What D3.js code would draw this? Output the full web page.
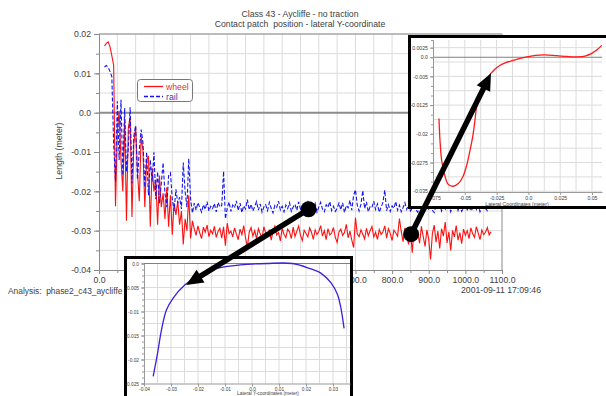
<!DOCTYPE html>
<html>
<head>
<meta charset="utf-8">
<script src="https://cdn.jsdelivr.net/npm/d3@7"></script>
<style>
  body { margin: 0; background: #fff; }
  svg { display: block; font-family: "Liberation Sans", Arial, sans-serif; }
  text { white-space: pre; }
</style>
</head>
<body>
<div id="chart"></div>
<script>
// ---- data ----
// main run: lateral contact patch position, sampled every 5 units from 15, values in mm
const distStart = 15, distStep = 5;
const wheelMm = [
  17.0, 17.6, 18.0, 16.8, 14.5, 12.0,
  -23.8, -5.0, 0.5, -12.0, -20.0, -2.0, -27.5, -4.0, -1.0, -26.5,
  -8.0, -3.5, -15.0, -22.5, -6.0, -9.5, -24.0, -12.0, -11.0, -29.0,
  -14.0, -20.0, -17.0, -28.5, -16.0, -24.0, -20.5, -27.0, -19.0, -29.0,
  -21.0, -31.0, -23.0, -26.0, -22.5, -28.5, -25.0, -33.5, -27.0, -30.0,
  -21.0, -32.0, -27.5,
  -29.5, -31.2, -28.8, -30.6, -32.0, -29.1, -30.4, -28.6, -31.5, -29.9,
  -30.8, -28.9, -31.7, -30.2, -29.4, -31.9, -29.0, -33.8, -28.1, -30.7,
  -30.1, -31.6, -29.3, -30.9, -32.3, -29.6, -31.0, -28.7, -31.8, -34.2,
  -30.4, -29.2, -31.4, -30.0, -32.1, -29.5, -30.8, -31.9, -29.0, -30.6,
  -31.3, -29.7, -32.4, -30.2, -28.9, -31.1, -30.5, -32.6, -29.4, -30.9,
  -31.8, -29.6, -30.3, -32.0, -29.1, -31.5, -30.1, -28.8, -31.2, -32.5,
  -29.9, -30.7, -31.6, -29.3, -30.4, -32.2, -29.8, -31.0, -30.2, -28.7,
  -31.4, -30.0, -32.3, -29.5, -31.1, -30.6, -29.2, -31.7, -33.0, -30.3,
  -29.6, -31.2, -30.5, -28.4, -31.8, -30.1, -32.4, -34.3, -26.7, -30.8,
  -31.5, -29.8, -30.9, -32.1, -29.4, -31.3, -30.0, -28.9, -31.6, -30.4,
  -32.2, -29.7, -31.0, -30.3, -28.8, -31.9, -29.5, -30.7, -32.5, -29.9,
  -30.6, -31.4, -26.9, -30.2, -32.8, -29.3, -31.1, -33.5, -30.0, -35.6,
  -29.4, -31.8, -30.5, -33.2, -28.9, -31.5, -34.0, -29.8, -32.2, -37.3,
  -30.7, -28.6, -32.9, -30.1, -34.5, -29.5, -31.4, -27.8, -33.1, -30.3,
  -35.0, -29.9, -31.6, -28.7, -32.4, -30.5, -33.3, -29.6, -31.2, -30.0,
  -32.0, -29.3, -30.8, -31.7, -29.0, -30.6, -32.3, -29.8, -31.0, -30.4,
  -29.2, -31.1, -30.3
];
const railMm = [
  11.6, 12.0, 11.5, 10.5, 9.2, -8.0,
  -17.5, 2.9, -12.0, 3.3, -16.0, 1.2, -15.0, -9.0, 1.4, -18.0,
  -6.0, -3.3, -17.0, -9.5, -4.3, -7.6, -19.0, -10.0, -21.0, -12.0,
  -17.5, -10.1, -22.0, -15.0, -23.0, -18.0, -12.7, -20.5, -24.0, -16.0,
  -15.3, -22.0, -25.0, -19.5, -23.0, -21.5, -24.5, -12.7, -20.0, -24.0,
  -11.7, -22.0, -25.5,
  -23.0, -24.8, -22.9, -24.1, -25.3, -23.4, -24.6, -22.6, -25.0, -23.8,
  -24.4, -23.1, -25.2, -22.8, -24.0, -23.6, -14.9, -27.0, -24.3, -22.7,
  -25.1, -23.5, -24.2, -22.4, -24.9, -23.0, -25.4, -23.7, -24.5, -22.1,
  -24.7, -23.3, -25.0, -23.9, -22.6, -24.8, -23.2, -25.3, -24.0, -23.4,
  -24.9, -22.8, -24.3, -25.5, -23.6, -24.1, -22.5, -24.7, -23.8, -25.2,
  -23.5, -24.4, -22.9, -25.1, -24.0, -23.3, -24.8, -22.7, -24.5, -25.4,
  -23.7, -24.2, -22.4, -25.0, -23.9, -24.6, -23.1, -25.3, -24.0, -22.8,
  -24.5, -25.2, -23.4, -24.1, -22.6, -24.9, -23.8, -25.1, -24.3, -23.0,
  -24.7, -22.9, -25.4, -23.6, -24.2, -22.3, -24.8, -21.0, -19.6, -23.5,
  -25.0, -23.3, -19.8, -24.4, -22.7, -25.2, -23.9, -24.1, -22.5, -24.6,
  -23.2, -25.3, -24.0, -22.8, -19.7, -24.9, -23.4, -25.1, -23.7, -24.3,
  -22.6, -24.8, -23.5, -25.2, -24.1, -22.9, -24.6, -23.3, -25.0, -24.4,
  -23.0, -24.7, -25.3, -23.6, -24.2, -22.7, -25.1, -23.9, -24.5, -23.2,
  -24.8, -25.4, -23.5, -24.0, -22.9, -25.0, -23.7, -24.6, -24.1, -23.3,
  -25.2, -23.8, -24.4, -22.8, -24.9, -23.6, -25.1, -24.2, -23.4, -24.7,
  -23.9, -25.0, -24.3, -22.9, -24.6, -23.5, -25.2, -24.0, -23.7, -24.4,
  -24.9, -23.6, -24.2
];
const mainXTicks = [0, 100, 200, 300, 400, 500, 600, 700, 800, 900, 1000, 1100];
const mainYTicks = [0.02, 0.01, 0, -0.01, -0.02, -0.03, -0.04];

// right inset: wheel profile (lateral coordinate, height) in meter
const wheelProfX = [-0.0703, -0.0695, -0.0682, -0.0661, -0.0630, -0.0590, -0.0551, -0.0516, -0.0485, -0.0459,
  -0.0438, -0.0420, -0.0407, -0.0370, -0.0330, -0.0296, -0.0223, -0.0119, -0.0013, 0.0118,
  0.0223, 0.0302, 0.0380, 0.0445, 0.0498, 0.0542, 0.0577];
const wheelProfY = [-0.0160, -0.0217, -0.0269, -0.0304, -0.0332, -0.0337, -0.0330, -0.0313, -0.0282, -0.0243,
  -0.0208, -0.0165, -0.0130, -0.0094, -0.0064, -0.0043, -0.0021, -0.0008, 0.0001, 0.0006,
  0.0004, 0.0002, 0.0001, 0.0003, 0.0010, 0.0020, 0.0031];
const rightYTicks = [0.0025, 0, -0.005, -0.0125, -0.02, -0.0275, -0.035];
const rightXTicks = [-0.075, -0.05, -0.025, 0, 0.025, 0.05];

// bottom inset: rail profile
const railProfX = [-0.0366, -0.0351, -0.0335, -0.0317, -0.0292, -0.0249, -0.0193, -0.0131, -0.0044, 0.0054,
  0.0150, 0.0212, 0.0255, 0.0292, 0.0317, 0.0329, 0.0341];
const railProfY = [-0.0235, -0.0191, -0.0138, -0.0097, -0.0072, -0.0045, -0.0023, -0.0010, -0.0003, 0.0,
  0.0, -0.0010, -0.0020, -0.0040, -0.0065, -0.0092, -0.0135];
const bottomYTicks = [0, -0.005, -0.01, -0.015, -0.02, -0.025];
const bottomXTicks = [-0.04, -0.03, -0.02, -0.01, 0, 0.01, 0.02, 0.03];

// ---- chart ----
const width = 606, height = 396;
const txt = '#404040', grid = '#dcdcdc', axisCol = '#8a8a8a';
const fmt = d => d === 0 ? '0.0' : String(d);

const svg = d3.select('#chart').append('svg')
  .attr('width', width).attr('height', height);

const plot = { left: 99, right: 502, top: 34, bottom: 270 };
const x = d3.scaleLinear().domain([0, 1100]).range([plot.left, plot.right]);
const y = d3.scaleLinear().domain([-0.04, 0.02]).range([plot.bottom, plot.top]);

// titles
svg.append('text').attr('x', 300).attr('y', 17).attr('text-anchor', 'middle')
  .attr('font-size', 8.7).attr('fill', txt).text('Class 43 - Aycliffe - no traction');
svg.append('text').attr('x', 300).attr('y', 27).attr('text-anchor', 'middle')
  .attr('font-size', 8.7).attr('fill', txt).text('Contact patch  position - lateral Y-coordinate');

// grid
const main = svg.append('g');
main.append('g').selectAll('line').data(d3.range(50, 1100, 50)).join('line')
  .attr('x1', d => x(d)).attr('x2', d => x(d))
  .attr('y1', plot.top).attr('y2', plot.bottom)
  .attr('stroke', grid);
main.append('g').selectAll('line').data(d3.range(-0.035, 0.02, 0.005)).join('line')
  .attr('x1', plot.left).attr('x2', plot.right)
  .attr('y1', d => y(d)).attr('y2', d => y(d))
  .attr('stroke', grid);

// frame + zero line
main.append('line').attr('x1', plot.left).attr('x2', plot.right).attr('y1', plot.top).attr('y2', plot.top).attr('stroke', axisCol);
main.append('line').attr('x1', plot.right).attr('x2', plot.right).attr('y1', plot.top).attr('y2', plot.bottom).attr('stroke', axisCol);
main.append('line').attr('x1', plot.left).attr('x2', plot.right).attr('y1', y(0)).attr('y2', y(0))
  .attr('stroke', '#8c8c8c').attr('stroke-width', 2);

function styleAxis(g, size, col) {
  g.attr('font-family', null).attr('font-size', size);
  g.selectAll('path, line').attr('stroke', col || axisCol);
  g.selectAll('text').attr('fill', txt);
}

main.append('g').attr('transform', `translate(${plot.left},0)`)
  .call(d3.axisLeft(y).tickValues(d3.range(-0.035, 0.02, 0.005)).tickSize(3).tickFormat(''))
  .call(g => styleAxis(g, 8.7));
main.append('g').attr('transform', `translate(${plot.left},0)`)
  .call(d3.axisLeft(y).tickValues(mainYTicks).tickSize(5).tickSizeOuter(0).tickFormat(fmt))
  .call(g => styleAxis(g, 8.7));
main.append('g').attr('transform', `translate(0,${plot.bottom})`)
  .call(d3.axisBottom(x).tickValues(d3.range(50, 1100, 100)).tickSize(3).tickFormat(''))
  .call(g => styleAxis(g, 8.7));
main.append('g').attr('transform', `translate(0,${plot.bottom})`)
  .call(d3.axisBottom(x).tickValues(mainXTicks).tickSize(4).tickSizeOuter(0).tickFormat(d => d.toFixed(1)))
  .call(g => styleAxis(g, 8.7));

// y label
svg.append('text').attr('transform', 'translate(62,151) rotate(-90)')
  .attr('text-anchor', 'middle').attr('font-size', 8.7).attr('fill', txt).text('Length (meter)');

// series
svg.append('clipPath').attr('id', 'clipMain').append('rect')
  .attr('x', plot.left).attr('y', plot.top).attr('width', plot.right - plot.left).attr('height', plot.bottom - plot.top);
const series = (arr) => arr.map((v, i) => [distStart + i * distStep, v / 1000]);
const line = d3.line().x(d => x(d[0])).y(d => y(d[1]));
main.append('path').datum(series(wheelMm)).attr('d', line)
  .attr('clip-path', 'url(#clipMain)')
  .attr('fill', 'none').attr('stroke', '#ff1010').attr('stroke-width', 1.1);
main.append('path').datum(series(railMm)).attr('d', line)
  .attr('clip-path', 'url(#clipMain)')
  .attr('fill', 'none').attr('stroke', '#1515f0').attr('stroke-width', 1.1)
  .attr('stroke-dasharray', '4,2');

// legend
const lg = svg.append('g');
lg.append('rect').attr('x', 137.5).attr('y', 79.5).attr('width', 55).attr('height', 22).attr('rx', 3)
  .attr('fill', '#fff').attr('stroke', '#777');
lg.append('line').attr('x1', 144).attr('x2', 163).attr('y1', 86.5).attr('y2', 86.5)
  .attr('stroke', '#ff1010').attr('stroke-width', 1.3);
lg.append('line').attr('x1', 144).attr('x2', 163).attr('y1', 96.5).attr('y2', 96.5)
  .attr('stroke', '#1515f0').attr('stroke-width', 1.3).attr('stroke-dasharray', '4,2');
lg.append('text').attr('x', 166).attr('y', 89.5).attr('font-size', 8.7).attr('fill', '#e03030').text('wheel');
lg.append('text').attr('x', 166).attr('y', 99.5).attr('font-size', 8.7).attr('fill', '#4040b0').text('rail');

// footer
svg.append('text').attr('x', 8).attr('y', 294).attr('font-size', 8.4).attr('fill', txt)
  .text('Analysis:  phase2_c43_aycliffe');
svg.append('text').attr('x', 541).attr('y', 293).attr('text-anchor', 'end').attr('font-size', 8.7).attr('fill', txt)
  .text('2001-09-11 17:09:46');

// ---- insets ----
function drawInset(o) {
  const g = svg.append('g');
  g.append('rect').attr('x', o.box.x).attr('y', o.box.y).attr('width', o.box.w).attr('height', o.box.h)
    .attr('fill', '#fff').attr('stroke', '#000').attr('stroke-width', 3);
  const sx = d3.scaleLinear().domain(o.xDomain).range([o.plot.left, o.plot.right]);
  const sy = d3.scaleLinear().domain(o.yDomain).range([o.plot.bottom, o.plot.top]);
  g.append('g').selectAll('line').data(o.xGrid).join('line')
    .attr('x1', d => sx(d)).attr('x2', d => sx(d)).attr('y1', o.plot.top).attr('y2', o.plot.bottom)
    .attr('stroke', grid);
  g.append('g').selectAll('line').data(o.yGrid).join('line')
    .attr('x1', o.plot.left).attr('x2', o.plot.right).attr('y1', d => sy(d)).attr('y2', d => sy(d))
    .attr('stroke', grid);
  g.append('line').attr('x1', o.plot.left).attr('x2', o.plot.right).attr('y1', sy(0)).attr('y2', sy(0))
    .attr('stroke', '#808080').attr('stroke-width', 1.2);
  g.append('g').attr('transform', `translate(${o.plot.left},0)`)
    .call(d3.axisLeft(sy).tickValues(o.yMinor).tickSize(2).tickFormat(''))
    .call(a => styleAxis(a, o.font, '#999'));
  g.append('g').attr('transform', `translate(${o.plot.left},0)`)
    .call(d3.axisLeft(sy).tickValues(o.yTicks).tickSize(3).tickPadding(2).tickSizeOuter(0).tickFormat(fmt))
    .call(a => styleAxis(a, o.font, '#999'));
  g.append('g').attr('transform', `translate(0,${o.plot.bottom})`)
    .call(d3.axisBottom(sx).tickValues(o.xTicks).tickSize(3).tickPadding(1).tickSizeOuter(0).tickFormat(fmt))
    .call(a => styleAxis(a, o.font, '#999'));
  g.append('text').attr('x', o.title.x).attr('y', o.title.y).attr('text-anchor', 'middle')
    .attr('font-size', o.font).attr('fill', txt).text(o.title.text);
  g.append('path').datum(o.px.map((v, i) => [v, o.py[i]]))
    .attr('d', d3.line().curve(d3.curveCatmullRom).x(d => sx(d[0])).y(d => sy(d[1])))
    .attr('fill', 'none').attr('stroke', o.color).attr('stroke-width', 1.3);
  return { sx, sy };
}

const rightInset = drawInset({
  box: { x: 409.5, y: 36.5, w: 200, h: 171 },
  plot: { left: 433, right: 602, top: 40, bottom: 192 },
  xDomain: [-0.075, 0.0579], yDomain: [-0.0352, 0.0045],
  xGrid: d3.range(-0.0625, 0.058, 0.0125), yGrid: d3.range(0.0025, -0.036, -0.00375),
  yMinor: d3.range(0.0025, -0.036, -0.0025),
  yTicks: rightYTicks, xTicks: rightXTicks, font: 5.2,
  title: { x: 517, y: 206, text: 'Lateral Coordinates (meter)' },
  px: wheelProfX, py: wheelProfY, color: '#ff1a1a'
});

const bottomInset = drawInset({
  box: { x: 125.5, y: 257.5, w: 226, h: 145 },
  plot: { left: 144, right: 350, top: 263.5, bottom: 383.5 },
  xDomain: [-0.04, 0.0363], yDomain: [-0.025, 0],
  xGrid: d3.range(-0.035, 0.036, 0.005), yGrid: d3.range(-0.0025, -0.025, -0.0025),
  yMinor: d3.range(0, -0.0251, -0.00125),
  yTicks: bottomYTicks, xTicks: bottomXTicks, font: 4.8,
  title: { x: 268, y: 394.5, text: 'Lateral Y-coordinates (meter)' },
  px: railProfX, py: railProfY, color: '#3a20d8'
});

// ---- arrows: from a point of the run to the matching profile point ----
function drawArrow(from, to) {
  const dx = to[0] - from[0], dy = to[1] - from[1];
  const len = Math.hypot(dx, dy), ux = dx / len, uy = dy / len;
  const headLen = 17, headW = 7.5;
  const bx = to[0] - ux * headLen, by = to[1] - uy * headLen;
  const a = svg.append('g');
  a.append('line').attr('x1', from[0]).attr('y1', from[1]).attr('x2', bx + ux * 2).attr('y2', by + uy * 2)
    .attr('stroke', '#000').attr('stroke-width', 5.5);
  a.append('polygon')
    .attr('points', [[to[0], to[1]], [bx - uy * headW, by + ux * headW], [bx + uy * headW, by - ux * headW]].join(' '))
    .attr('fill', '#000');
  a.append('circle').attr('cx', from[0]).attr('cy', from[1]).attr('r', 8).attr('fill', '#000');
}
drawArrow([x(572), y(-0.02455)], [bottomInset.sx(-0.0244), bottomInset.sy(-0.0045)]);
drawArrow([x(852), y(-0.0309)], [rightInset.sx(-0.0294), rightInset.sy(-0.0042)]);
</script>
</body>
</html>
